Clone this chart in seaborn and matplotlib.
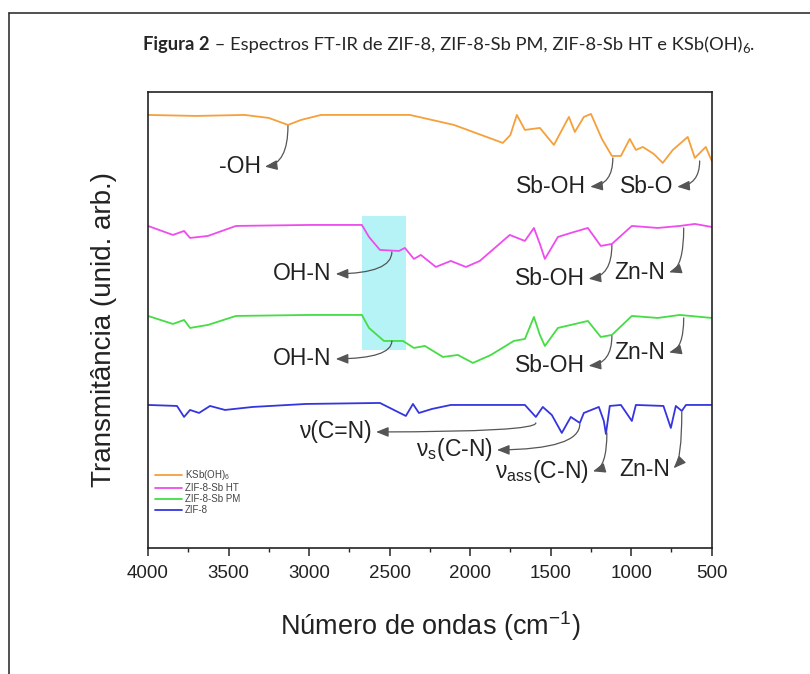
import matplotlib
matplotlib.use("Agg")
import matplotlib.pyplot as plt
import matplotlib.transforms as mtrans
import numpy as np
import pandas as pd
import seaborn as sns

# spectra (wavenumber in cm-1, transmittance in arb. units incl. offset)
wn_ksb = [4000, 3700, 3400, 3250, 3131, 3050, 2926, 2600, 2374, 2100, 1797, 1750, 1710, 1660,
          1567, 1480, 1387, 1350, 1294, 1250, 1182, 1120, 1064, 1009, 971, 928, 860, 804,
          742, 649, 605, 537, 500]
t_ksb = [433, 432, 433, 430, 423, 428, 433, 433, 433, 423, 405, 413, 433, 418,
         420, 403, 431, 416, 431, 434, 409, 392, 392, 409, 398, 401, 394, 385,
         398, 411, 390, 401, 387]

wn_ht = [4000, 3845, 3776, 3739, 3628, 3454, 3000, 2672, 2628, 2560, 2442, 2405, 2349, 2306,
         2213, 2120, 2026, 1940, 1754, 1660, 1604, 1567, 1536, 1455, 1375, 1269, 1189, 1120,
         996, 835, 698, 605, 500]
t_ht = [322, 313, 317, 310, 312, 322, 323, 323, 311, 298, 297, 300, 289, 293,
        281, 287, 281, 287, 313, 307, 320, 304, 289, 311, 315, 320, 302, 304,
        322, 320, 322, 324, 321]

wn_pm = [4000, 3845, 3776, 3739, 3628, 3454, 3000, 2672, 2628, 2535, 2417, 2349, 2281, 2169,
         2076, 1983, 1871, 1729, 1660, 1604, 1567, 1536, 1455, 1269, 1189, 1120, 996, 835,
         698, 500]
t_pm = [232, 224, 228, 220, 223, 232, 233, 233, 220, 207, 207, 200, 202, 191,
        193, 185, 193, 207, 209, 231, 213, 202, 220, 227, 211, 213, 232, 230,
        233, 230]

wn_zif = [4000, 3820, 3776, 3739, 3683, 3615, 3522, 3350, 3019, 2560, 2399, 2355, 2318, 2237,
          2120, 1660, 1592, 1549, 1493, 1431, 1375, 1319, 1294, 1201, 1170, 1157, 1133, 1064,
          996, 971, 800, 754, 723, 686, 660, 500]
t_zif = [143, 142, 131, 138, 135, 142, 138, 141, 144, 145, 132, 144, 135, 139,
         143, 143, 131, 141, 133, 115, 131, 125, 135, 141, 127, 114, 142, 143,
         127, 143, 142, 120, 142, 137, 143, 143]

names = ["KSb(OH)$_6$", "ZIF-8-Sb HT", "ZIF-8-Sb PM", "ZIF-8"]
colors = ["#f5a03a", "#ee4cee", "#44dd44", "#3535e0"]

# band assignments: label, text right edge (wn, y), band position on curve (wn, y)
labels = ["-OH", "Sb-OH", "Sb-O",
          "OH-N", "Sb-OH", "Zn-N",
          "OH-N", "Sb-OH", "Zn-N",
          "ν(C=N)", "ν$_\\mathrm{s}$(C-N)", "ν$_\\mathrm{ass}$(C-N)", "Zn-N"]
text_pos = [(3300, 381), (1280, 361), (740, 361),
            (2860, 274), (1290, 269), (790, 275),
            (2860, 189), (1290, 182), (790, 195),
            (2610, 116), (1859, 98), (1263, 76), (760, 78)]
band_pos = [(3131, 422), (1114, 390), (575, 387),
            (2486, 296), (1120, 303), (674, 320),
            (2486, 207), (1120, 212), (674, 230),
            (1592, 125), (1319, 124), (1151, 115), (686, 136)]

frames = []
for n, w, t in zip(names, [wn_ksb, wn_ht, wn_pm, wn_zif], [t_ksb, t_ht, t_pm, t_zif]):
    frames.append(pd.DataFrame({"wn": w, "T": t, "amostra": n}))
df = pd.concat(frames, ignore_index=True)

sns.set_style("ticks")
plt.rcParams["font.family"] = ["Liberation Sans", "DejaVu Sans"]
plt.rcParams["mathtext.fontset"] = "custom"
plt.rcParams["mathtext.rm"] = "Liberation Sans"
plt.rcParams["mathtext.it"] = "Liberation Sans:italic"

fig = plt.figure(figsize=(8.1, 6.74), dpi=100)
ax = fig.add_axes([0.1827, 0.187, 0.696, 0.6766])

ax.fill_betweenx([198, 332], 2670, 2400, color="#b5f3f6", lw=0, zorder=0)

sns.lineplot(data=df, x="wn", y="T", hue="amostra", palette=colors, hue_order=names,
             lw=1.3, ax=ax, sort=False, estimator=None)

ax.set_xlim(4000, 500)
ax.set_ylim(0, 456)
ax.set_xticks(np.arange(4000, 499, -500))
ax.set_xticks(np.arange(3750, 500, -500), minor=True)
ax.set_yticks([])
ax.tick_params(axis="x", which="major", length=6, width=1.1, labelsize=13.5, pad=6,
               direction="out", labelcolor="#222222")
ax.tick_params(axis="x", which="minor", length=3, width=1.0)
for s in ax.spines.values():
    s.set_linewidth(1.2)
    s.set_color("#222222")
ax.set_xlabel("Número de ondas (cm$^{\\mathregular{-1}}$)", fontsize=19.5, labelpad=20,
              color="#222222")
ax.set_ylabel("Transmitância (unid. arb.)", fontsize=20, labelpad=10, color="#222222")
ax.yaxis.set_label_coords(-0.055, 0.48)

for lab, tp, bp in zip(labels, text_pos, band_pos):
    ax.annotate(lab, xy=bp, xytext=tp, ha="right", va="center", fontsize=16.5, color="#222222",
                arrowprops=dict(arrowstyle="<|-,head_length=0.45,head_width=0.18",
                                connectionstyle="angle3,angleA=0,angleB=90",
                                color="#555555", lw=0.9, relpos=(1, 0.5), patchA=None,
                                shrinkA=3, shrinkB=0))

leg = ax.legend(loc="upper left", bbox_to_anchor=(0.0, 0.19), frameon=False, fontsize=7,
                handlelength=2.8, handletextpad=0.3, labelspacing=0.1, borderaxespad=0.3)
for t in leg.get_texts():
    t.set_color("#444444")

# caption
cap_fs = 13.25
x0, y0 = 0.177, 0.926
t1 = fig.text(x0, y0, "Figura 2", fontsize=cap_fs, weight="bold", family="Lato",
              va="baseline")
fig.canvas.draw()
r = fig.canvas.get_renderer()
base = fig.transFigure.transform((x0, y0))
bb1 = t1.get_window_extent(r)
t2 = fig.text(bb1.x1, base[1], " – Espectros FT-IR de ZIF-8, ZIF-8-Sb PM, ZIF-8-Sb HT e KSb(OH)",
              fontsize=cap_fs, family="Lato", va="baseline",
              transform=mtrans.IdentityTransform())
bb2 = t2.get_window_extent(r)
t3 = fig.text(bb2.x1, base[1] - 3, "6", fontsize=cap_fs * 0.7, family="Lato", va="baseline",
              transform=mtrans.IdentityTransform())
bb3 = t3.get_window_extent(r)
fig.text(bb3.x1, base[1], ".", fontsize=cap_fs, family="Lato", va="baseline",
         transform=mtrans.IdentityTransform())

# outer frame of the figure box
fig.add_artist(plt.Line2D([0.011, 1.0], [0.9807, 0.9807], color="#333333", lw=1.2,
                          transform=fig.transFigure))
fig.add_artist(plt.Line2D([0.011, 0.011], [0.0, 0.9807], color="#333333", lw=1.2,
                          transform=fig.transFigure))

fig.savefig("out.png", dpi=100)
